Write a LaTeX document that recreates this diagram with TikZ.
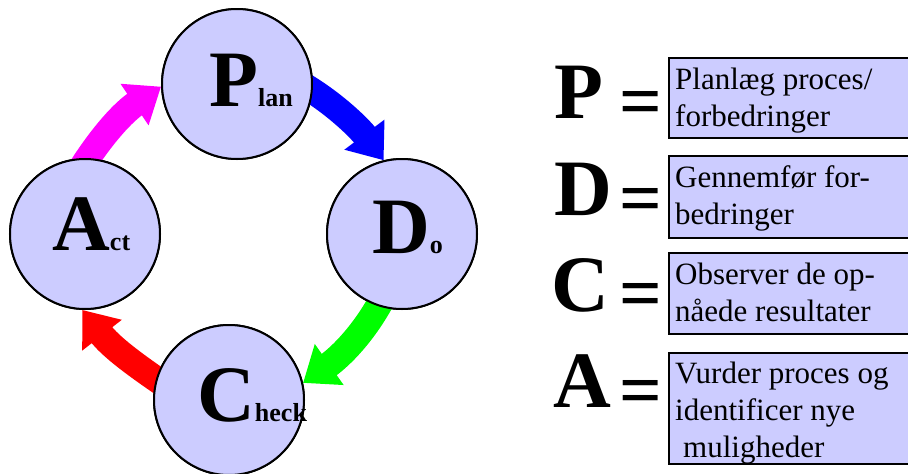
\documentclass[tikz,border=0pt]{standalone}
\usepackage{fontspec}
\setmainfont{Liberation Serif}
\usetikzlibrary{arrows.meta}
\definecolor{lav}{RGB}{204,204,255}
\definecolor{fblue}{RGB}{0,0,255}
\definecolor{fgreen}{RGB}{0,255,0}
\definecolor{fred}{RGB}{255,0,0}
\definecolor{fmag}{RGB}{255,0,255}
\newcommand{\smallsub}{\fontsize{26}{28}\selectfont}
\begin{document}
\begin{tikzpicture}[x=1pt,y=-1pt,
  circ/.style={circle, draw=black, line width=2pt, fill=lav, minimum size=150pt, inner sep=0pt},
  flow/.style={line width=26pt, -{Triangle[length=32pt,width=48pt]}, shorten <=-12pt},
  big/.style={font=\fontsize{80}{80}\selectfont\bfseries, inner sep=0pt, anchor=base west},
  box/.style={draw=black, line width=1.5pt, fill=lav, anchor=north west, inner sep=0pt, minimum width=250pt},
  boxtext/.style={font=\fontsize{31}{37}\selectfont, inner sep=0pt, anchor=base west},
  eq/.style={font=\fontsize{75}{75}\selectfont\bfseries, inner sep=0pt, anchor=base west}]
\useasboundingbox (0,0) rectangle (908,474);
% circles (named, for connectors)
\node[circ] (P) at (237,84) {};
\node[circ] (D) at (402,234) {};
\node[circ] (C) at (229,400) {};
\node[circ] (A) at (85,234) {};
% arrows
\draw[flow, fblue] (P.-5) .. controls +(22,13) and +(-24,-32) .. (D.104);
\draw[flow, fgreen] (D.-108) .. controls +(-14,27) and +(37,-26) .. (C.13);
\draw[flow, fred] (C.164) .. controls +(-25,-17) and +(28,36) .. (A.-92);
\draw[flow, fmag] (A.88) .. controls +(16,-25) and +(-37,25) .. (P.182);
% circles again on top of the arrow ends
\node[circ] at (P) {};
\node[circ] at (D) {};
\node[circ] at (C) {};
\node[circ] at (A) {};
% circle texts
\node[big] (Pt) at (209,106) {P{\smallsub lan}};
\node[big] (Dt) at (372,253) {D{\smallsub o}};
\node[big] (Ct) at (197,421) {C{\smallsub heck}};
\node[big] (At) at (52,250) {A{\smallsub ct}};
% right side legend
\node[box, minimum height=80pt] (bP) at (668,57) {};
\node[box, minimum height=82pt] (bD) at (668,155) {};
\node[box, minimum height=81pt] (bC) at (668,252) {};
\node[box, minimum height=111pt] (bA) at (668,352) {};
\node[big] (lP) at (554,118) {P};
\node[big] (lD) at (554,215) {D};
\node[big] (lC) at (551,311) {C};
\node[big] (lA) at (553,407) {A};
\node[eq] (eP) at (619,126) {=};
\node[eq] (eD) at (619,223) {=};
\node[eq] (eC) at (619,318) {=};
\node[eq] (eA) at (619,415) {=};
\node[boxtext] (tP) at (675,89) {\parbox[t]{230pt}{\raggedright Planlæg proces/\\forbedringer}};
\node[boxtext] (tD) at (675,187) {\parbox[t]{230pt}{\raggedright Gennemfør for-\\bedringer}};
\node[boxtext] (tC) at (675,284) {\parbox[t]{230pt}{\raggedright Observer de op-\\nåede resultater}};
\node[boxtext] (tA) at (675,383) {\parbox[t]{230pt}{\raggedright Vurder proces og\\identificer nye\\\hspace*{8pt}muligheder}};
\end{tikzpicture}
\end{document}
